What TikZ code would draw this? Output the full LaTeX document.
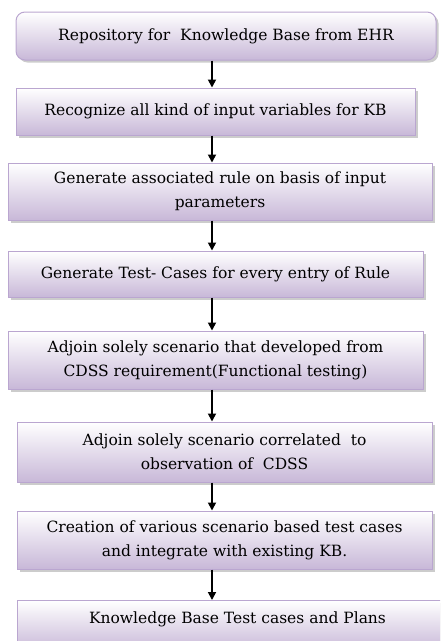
\documentclass[tikz,border=0pt]{standalone}
\usepackage{fontspec}
\setmainfont{DejaVu Serif}
\usetikzlibrary{arrows.meta,shadows}
\definecolor{boxlilac}{RGB}{200,184,216}
\definecolor{boxedge}{RGB}{186,166,208}

\begin{document}
\begin{tikzpicture}[x=1pt, y=-1pt,
    stepbox/.style={draw=boxedge, line width=1pt, top color=white, bottom color=boxlilac,
        drop shadow={shadow xshift=2.5pt, shadow yshift=-2.5pt, fill=black!40},
        align=center, inner sep=0pt, font=\fontsize{15.5}{24}\selectfont},
    flow/.style={-{Triangle[length=8pt,width=8pt]}, line width=1.7pt}]
    \clip (0,0) rectangle (440,641);
    \coordinate (ax) at (212,0);
    % steps of the test plan
    \node[stepbox, rounded corners=9pt, minimum width=420pt, minimum height=48pt] (repo) at (226,36)
        {\raisebox{3pt}{Repository for \ Knowledge Base from EHR}};
    \node[stepbox, minimum width=399pt, minimum height=47pt] (recog) at (215.5,111.5)
        {Recognize all kind of input variables for KB};
    \node[stepbox, minimum width=424pt, minimum height=57pt] (rule) at (220,191.5)
        {Generate associated rule on basis of input\\parameters};
    \node[stepbox, minimum width=415pt, minimum height=46pt] (cases) at (215.5,274)
        {Generate Test- Cases for every entry of Rule};
    \node[stepbox, minimum width=415pt, minimum height=58pt] (funct) at (215.5,360)
        {Adjoin solely scenario that developed from\\CDSS requirement(Functional testing)};
    \node[stepbox, minimum width=415pt, minimum height=60pt] (observ) at (224.5,452)
        {Adjoin solely scenario correlated \ to\\observation of \ CDSS};
    \node[stepbox, minimum width=415pt, minimum height=58pt] (create) at (224.5,540)
        {Creation of various scenario based test cases\\and integrate with existing KB.};
    \node[stepbox, minimum width=440pt, minimum height=50pt, anchor=north west] (plans) at (17,600)
        {\makebox[415pt][c]{\raisebox{2pt}[0pt][0pt]{Knowledge Base Test cases and Plans}}};
    % connectors
    \draw[flow] (repo.south -| ax) -- (recog.north -| ax);
    \draw[flow] (recog.south -| ax) -- (rule.north -| ax);
    \draw[flow] (rule.south -| ax) -- (cases.north -| ax);
    \draw[flow] (cases.south -| ax) -- (funct.north -| ax);
    \draw[flow] (funct.south -| ax) -- (observ.north -| ax);
    \draw[flow] (observ.south -| ax) -- (create.north -| ax);
    \draw[flow] (create.south -| ax) -- (plans.north -| ax);
\end{tikzpicture}
\end{document}
